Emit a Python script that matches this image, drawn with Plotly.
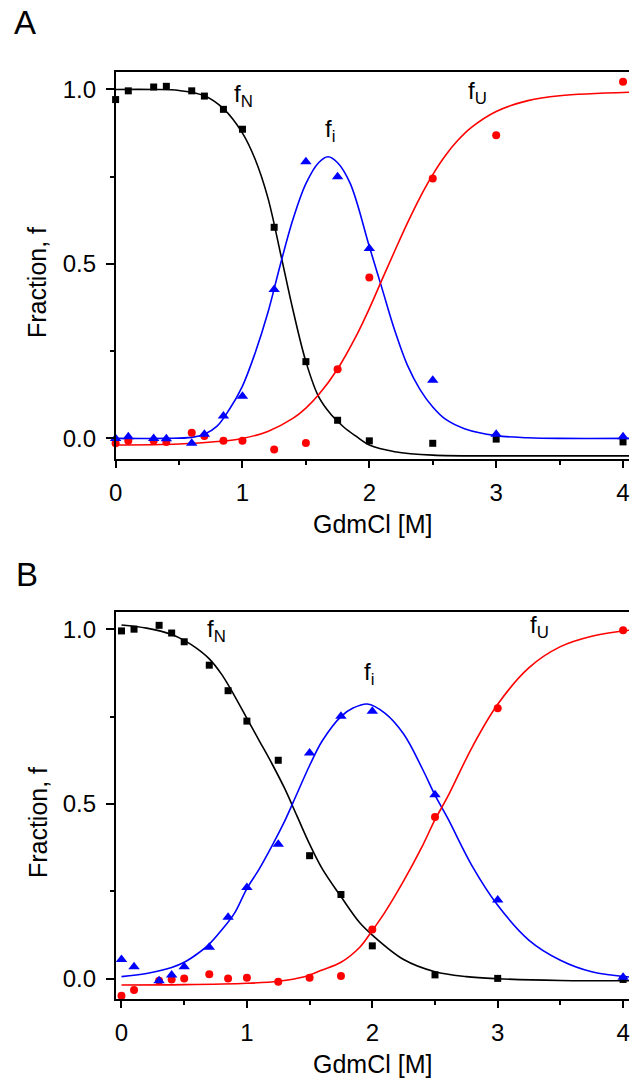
import plotly.graph_objects as go

# ---------------- Panel A data ----------------
a_conc = [0.0, 0.1, 0.3, 0.4, 0.6, 0.7, 0.85, 1.0, 1.25, 1.5, 1.75, 2.0, 2.5, 3.0, 4.0]
a_fN = [0.971, 0.996, 1.007, 1.009, 0.996, 0.981, 0.943, 0.886, 0.605, 0.22, 0.052, -0.007, -0.014, -0.002, -0.01]
a_fI = [0.0, 0.005, 0.0, -0.001, -0.014, 0.012, 0.064, 0.121, 0.427, 0.793, 0.75, 0.544, 0.167, 0.012, 0.005]
a_fU = [-0.014, -0.007, -0.007, -0.01, 0.016, 0.007, -0.007, -0.007, -0.032, -0.013, 0.198, 0.461, 0.745, 0.869, 1.022]

a_fitN_x = [0, 0.3, 0.5, 0.7, 0.85, 1.0, 1.1, 1.2, 1.3, 1.4, 1.5, 1.6, 1.7, 1.8, 1.9, 2.0, 2.2, 2.5, 3.0, 3.5, 4.05]
a_fitN_y = [1.0, 1.0, 0.997, 0.982, 0.945, 0.875, 0.8, 0.69, 0.53, 0.365, 0.22, 0.12, 0.068, 0.032, 0.005, -0.019, -0.038, -0.048, -0.05, -0.05, -0.05]
a_fitI_x = [0, 0.4, 0.6, 0.7, 0.8, 0.9, 1.0, 1.1, 1.2, 1.3, 1.4, 1.5, 1.6, 1.675, 1.75, 1.85, 2.0, 2.1, 2.2, 2.3, 2.4, 2.5, 2.6, 2.75, 3.0, 3.25, 3.5, 4.05]
a_fitI_y = [0.0, 0.0, 0.003, 0.012, 0.035, 0.085, 0.15, 0.245, 0.36, 0.5, 0.63, 0.73, 0.79, 0.807, 0.79, 0.73, 0.55, 0.43, 0.31, 0.21, 0.14, 0.09, 0.055, 0.028, 0.008, 0.002, 0.0, 0.0]
a_fitU_x = [0, 0.5, 0.8, 1.0, 1.2, 1.4, 1.5, 1.6, 1.75, 1.9, 2.0, 2.1, 2.2, 2.3, 2.4, 2.5, 2.6, 2.7, 2.8, 3.0, 3.25, 3.5, 4.05]
a_fitU_y = [-0.019, -0.016, -0.009, 0.0, 0.02, 0.058, 0.087, 0.125, 0.199, 0.296, 0.372, 0.455, 0.537, 0.617, 0.691, 0.756, 0.811, 0.855, 0.89, 0.937, 0.968, 0.982, 0.992]

# ---------------- Panel B data ----------------
b_conc = [0.0, 0.1, 0.3, 0.4, 0.5, 0.7, 0.85, 1.0, 1.25, 1.5, 1.75, 2.0, 2.5, 3.0, 4.0]
b_fN = [0.995, 1.0, 1.011, 0.989, 0.964, 0.897, 0.824, 0.737, 0.625, 0.352, 0.241, 0.094, 0.011, 0.001, -0.002]
b_fI = [0.055, 0.034, -0.006, 0.011, 0.034, 0.09, 0.176, 0.261, 0.385, 0.646, 0.751, 0.765, 0.526, 0.225, 0.004]
b_fU = [-0.049, -0.032, -0.006, -0.002, 0.001, 0.013, 0.001, 0.003, -0.009, 0.003, 0.008, 0.141, 0.463, 0.774, 0.997]

b_fitN_x = [0, 0.2, 0.4, 0.5, 0.6, 0.7, 0.8, 0.9, 1.0, 1.1, 1.2, 1.3, 1.4, 1.5, 1.6, 1.75, 1.9, 2.0, 2.25, 2.5, 2.75, 3.0, 3.5, 4.05]
b_fitN_y = [1.012, 1.003, 0.985, 0.968, 0.945, 0.915, 0.87, 0.81, 0.745, 0.68, 0.615, 0.545, 0.465, 0.385, 0.315, 0.235, 0.16, 0.125, 0.055, 0.02, 0.006, 0.0, -0.005, -0.006]
b_fitI_x = [0, 0.2, 0.4, 0.5, 0.6, 0.7, 0.8, 0.9, 1.0, 1.1, 1.2, 1.3, 1.4, 1.5, 1.6, 1.75, 1.85, 1.96, 2.1, 2.25, 2.4, 2.5, 2.6, 2.8, 3.0, 3.25, 3.5, 3.75, 4.05]
b_fitI_y = [0.006, 0.015, 0.032, 0.047, 0.07, 0.099, 0.14, 0.187, 0.258, 0.315, 0.38, 0.45, 0.53, 0.61, 0.68, 0.75, 0.775, 0.786, 0.76, 0.7, 0.6, 0.525, 0.46, 0.32, 0.21, 0.11, 0.053, 0.02, 0.005]
b_fitU_x = [0, 0.5, 1.0, 1.25, 1.45, 1.6, 1.75, 1.9, 2.0, 2.1, 2.25, 2.4, 2.5, 2.6, 2.8, 3.0, 3.25, 3.5, 3.75, 4.05]
b_fitU_y = [-0.018, -0.017, -0.013, -0.007, 0.005, 0.025, 0.047, 0.09, 0.138, 0.19, 0.28, 0.38, 0.455, 0.52, 0.665, 0.785, 0.89, 0.95, 0.98, 0.997]

x_ticks = [0, 1, 2, 3, 4]
y_ticks = [0.0, 0.5, 1.0]
y_tick_text = ["0.0", "0.5", "1.0"]

BLACK = "#000000"
BLUE = "#0000FF"
RED = "#FF0000"
FONT = "Liberation Sans, Arial, sans-serif"

W, H = 630, 1082

fig = go.Figure()

def add_panel(xa, ya, conc, fN, fI, fU, nx, ny, ix, iy, ux, uy):
    common = dict(xaxis=xa, yaxis=ya, showlegend=False, hoverinfo="skip")
    fig.add_trace(go.Scatter(x=nx, y=ny, mode="lines", line=dict(color=BLACK, width=1.6, shape="spline", smoothing=1.0), **common))
    fig.add_trace(go.Scatter(x=ix, y=iy, mode="lines", line=dict(color=BLUE, width=1.6, shape="spline", smoothing=1.0), **common))
    fig.add_trace(go.Scatter(x=ux, y=uy, mode="lines", line=dict(color=RED, width=1.6, shape="spline", smoothing=1.0), **common))
    fig.add_trace(go.Scatter(x=conc, y=fN, mode="markers", marker=dict(symbol="square", size=7, color=BLACK), cliponaxis=False, **common))
    fig.add_trace(go.Scatter(x=conc, y=fU, mode="markers", marker=dict(symbol="circle", size=8, color=RED), cliponaxis=False, **common))
    fig.add_trace(go.Scatter(x=conc, y=fI, mode="markers", marker=dict(symbol="triangle-up", size=10, color=BLUE), cliponaxis=False, **common))

add_panel("x", "y", a_conc, a_fN, a_fI, a_fU, a_fitN_x, a_fitN_y, a_fitI_x, a_fitI_y, a_fitU_x, a_fitU_y)
add_panel("x2", "y2", b_conc, b_fN, b_fI, b_fU, b_fitN_x, b_fitN_y, b_fitI_x, b_fitI_y, b_fitU_x, b_fitU_y)

tickfont = dict(family=FONT, size=24, color=BLACK)

def xaxis_cfg(rng, anchor):
    return dict(
        domain=[110 / W, 1.0], range=rng, anchor=anchor,
        tickmode="array", tickvals=x_ticks, ticktext=[str(t) for t in x_ticks],
        ticks="outside", ticklen=7, tickwidth=1.5, tickcolor=BLACK,
        minor=dict(dtick=0.5, tick0=0, ticks="outside", ticklen=4, tickwidth=1.5, tickcolor=BLACK),
        showline=True, linecolor=BLACK, linewidth=1.5, mirror=True,
        showgrid=False, zeroline=False, tickfont=tickfont, ticklabelstandoff=4,
        ticklabeloverflow="allow",
    )

def yaxis_cfg(rng, dom, anchor):
    return dict(
        domain=dom, range=rng, anchor=anchor,
        tickmode="array", tickvals=y_ticks, ticktext=y_tick_text,
        ticks="outside", ticklen=8, tickwidth=1.5, tickcolor=BLACK,
        minor=dict(dtick=0.25, tick0=0, ticks="outside", ticklen=4, tickwidth=1.5, tickcolor=BLACK),
        showline=True, linecolor=BLACK, linewidth=1.5, mirror=False,
        showgrid=False, zeroline=False, tickfont=tickfont, ticklabelstandoff=5,
    )

domA = [1 - 459 / H, 1 - 72 / H]
domB = [1 - 999 / H, 1 - 611.7 / H]

fig.update_layout(
    width=W, height=H,
    margin=dict(l=0, r=0, t=0, b=0),
    paper_bgcolor="white", plot_bgcolor="white",
    font=dict(family=FONT, color=BLACK),
    xaxis=xaxis_cfg([0, 4.047], "y"),
    yaxis=yaxis_cfg([-0.059, 1.05], domA, "x"),
    xaxis2=xaxis_cfg([-0.047, 4.047], "y2"),
    yaxis2=yaxis_cfg([-0.058, 1.05], domB, "x2"),
)

ann = []
# panel letters
ann.append(dict(text="A", x=5 / W, y=1 - 22 / H, xref="paper", yref="paper", xanchor="left", yanchor="middle", showarrow=False, font=dict(family=FONT, size=33, color=BLACK)))
ann.append(dict(text="B", x=7 / W, y=1 - 574 / H, xref="paper", yref="paper", xanchor="left", yanchor="middle", showarrow=False, font=dict(family=FONT, size=33, color=BLACK)))
# axis titles
for cy in (282.5, 822.5):
    ann.append(dict(text="Fraction, f", x=31 / W, y=1 - cy / H, xref="paper", yref="paper", xanchor="center", yanchor="middle", textangle=-90, showarrow=False, font=dict(family=FONT, size=25, color=BLACK)))
for cy in (524, 1064):
    ann.append(dict(text="GdmCl [M]", x=370 / W, y=1 - cy / H, xref="paper", yref="paper", xanchor="center", yanchor="middle", showarrow=False, font=dict(family=FONT, size=25, color=BLACK)))
# curve labels
labfont = dict(family=FONT, size=24, color=BLACK)
ann.append(dict(text="f<sub>N</sub>", x=1.01, y=0.984, xref="x", yref="y", showarrow=False, font=labfont))
ann.append(dict(text="f<sub>i</sub>", x=1.69, y=0.882, xref="x", yref="y", showarrow=False, font=labfont))
ann.append(dict(text="f<sub>U</sub>", x=2.85, y=0.992, xref="x", yref="y", showarrow=False, font=labfont))
ann.append(dict(text="f<sub>N</sub>", x=0.76, y=0.997, xref="x2", yref="y2", showarrow=False, font=labfont))
ann.append(dict(text="f<sub>i</sub>", x=1.975, y=0.874, xref="x2", yref="y2", showarrow=False, font=labfont))
ann.append(dict(text="f<sub>U</sub>", x=3.33, y=1.007, xref="x2", yref="y2", showarrow=False, font=labfont))

fig.update_layout(annotations=ann)

fig.write_html(
    "out.html",
    config={"displayModeBar": False},
    post_script="document.body.style.margin='0px';document.body.style.padding='0px';document.body.style.overflow='hidden';",
)
